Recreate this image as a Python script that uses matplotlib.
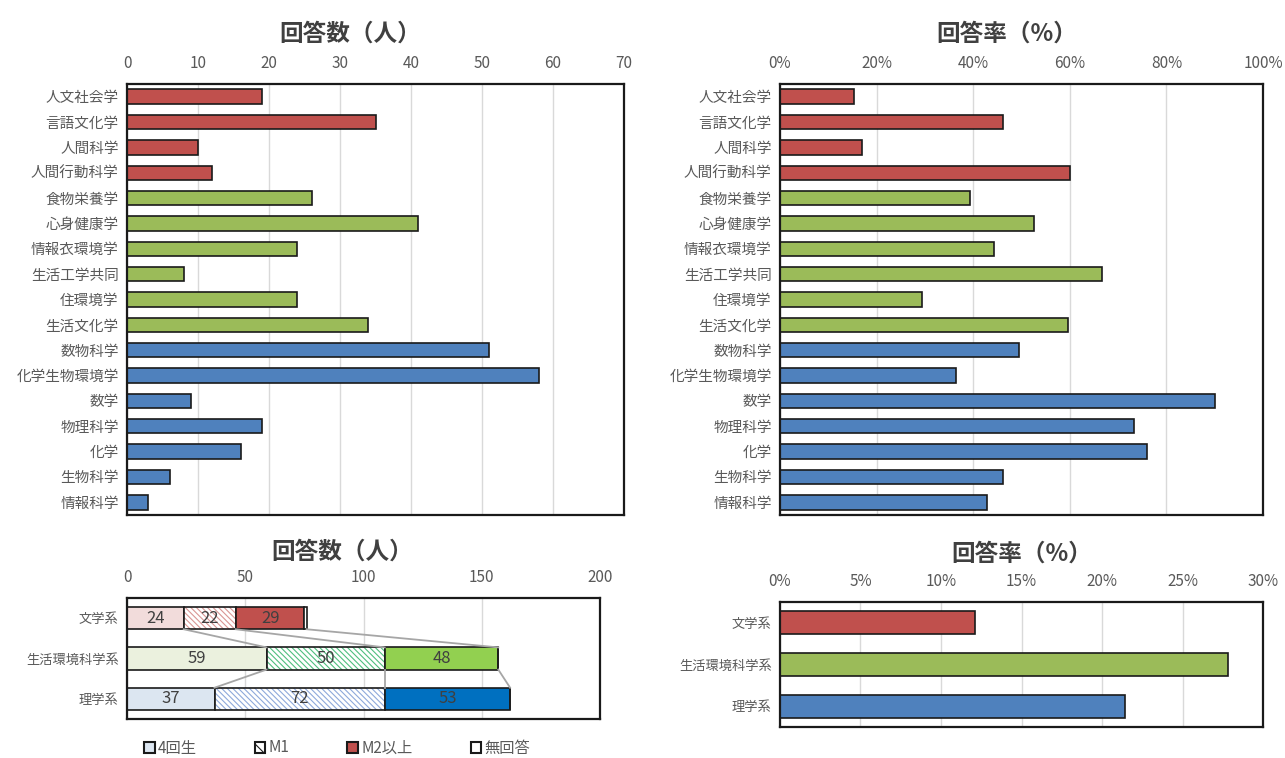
import matplotlib.pyplot as plt
from matplotlib.ticker import PercentFormatter
from matplotlib.patches import Patch

plt.rcParams['font.family'] = ['Noto Sans CJK JP', 'DejaVu Sans']
plt.rcParams['hatch.linewidth'] = 0.8

# --- data ---
depts = ['人文社会学', '言語文化学', '人間科学', '人間行動科学',
         '食物栄養学', '心身健康学', '情報衣環境学', '生活工学共同', '住環境学', '生活文化学',
         '数物科学', '化学生物環境学', '数学', '物理科学', '化学', '生物科学', '情報科学']
dept_group = [0, 0, 0, 0, 1, 1, 1, 1, 1, 1, 2, 2, 2, 2, 2, 2, 2]
dept_count = [19, 35, 10, 12, 26, 41, 24, 8, 24, 34, 51, 58, 9, 19, 16, 6, 3]
dept_rate = [15.3, 46.1, 17.0, 60.0, 39.3, 52.6, 44.3, 66.7, 29.3, 59.6,
             49.4, 36.5, 90.0, 73.2, 76.0, 46.1, 42.8]

groups = ['文学系', '生活環境科学系', '理学系']
grade_labels = ['4回生', 'M1', 'M2以上', '無回答']
g4 = [24, 59, 37]
m1 = [22, 50, 72]
m2 = [29, 48, 53]
noans = [1, 0, 0]
group_rate = [12.1, 27.8, 21.4]

base_colors = ['#C0504D', '#9BBB59', '#4F81BD']
light_colors = ['#F2DCDB', '#EBF1DE', '#DCE6F1']
m1_hatch_colors = ['#D99694', '#4FBF7F', '#8EA9DB']
m2_colors = ['#C0504D', '#92D050', '#0070C0']

TXT = '#595959'
TITLE = '#404040'
GRID = '#D9D9D9'

fig = plt.figure(figsize=(12.85, 7.58), dpi=100)
W, H = 1285, 758


def add_ax(l, t, r, b):
    return fig.add_axes([l / W, 1 - b / H, (r - l) / W, (b - t) / H])


def style(ax, xmax, step, pct=False, ylab=10.5):
    ax.set_xlim(0, xmax)
    ax.set_xticks(range(0, xmax + 1, step))
    if pct:
        ax.xaxis.set_major_formatter(PercentFormatter(decimals=0))
    ax.xaxis.tick_top()
    ax.tick_params(axis='both', length=0, colors=TXT, pad=6)
    ax.tick_params(axis='x', pad=8.5, labelsize=11)
    ax.tick_params(axis='y', labelsize=ylab)
    ax.grid(axis='x', color=GRID, lw=1)
    ax.set_axisbelow(True)
    for s in ax.spines.values():
        s.set_linewidth(1.6)
        s.set_color('#1a1a1a')


# top-left: counts
ax1 = add_ax(127, 84, 624, 515)
ypos = list(range(len(depts)))
ax1.barh(ypos, dept_count, height=0.57, color=[base_colors[g] for g in dept_group],
         edgecolor='#1a1a1a', lw=1.2)
ax1.set_yticks(ypos)
ax1.set_yticklabels(depts)
ax1.set_ylim(len(depts) - 0.5, -0.5)
style(ax1, 70, 10)
ax1.set_title('回答数（人）', fontsize=17, fontweight='bold', color=TITLE, pad=31, x=0.45)

# top-right: rate
ax2 = add_ax(780, 84, 1263, 515)
ax2.barh(ypos, dept_rate, height=0.57, color=[base_colors[g] for g in dept_group],
         edgecolor='#1a1a1a', lw=1.2)
ax2.set_yticks(ypos)
ax2.set_yticklabels(depts)
ax2.set_ylim(len(depts) - 0.5, -0.5)
style(ax2, 100, 20, pct=True)
ax2.set_title('回答率（%）', fontsize=17, fontweight='bold', color=TITLE, pad=31, x=0.47)

# bottom-left: stacked counts
ax3 = add_ax(127, 598, 600, 719)
gy = list(range(len(groups)))
h = 0.55
ax3.barh(gy, g4, height=h, color=light_colors, edgecolor='#1a1a1a', lw=1.2)
left = list(g4)
ax3.barh(gy, m1, height=h, left=left, color='white', edgecolor=m1_hatch_colors,
         hatch='\\\\\\\\\\\\', lw=0)
ax3.barh(gy, m1, height=h, left=left, fill=False, edgecolor='#1a1a1a', lw=1.2)
left2 = [a + b for a, b in zip(left, m1)]
ax3.barh(gy, m2, height=h, left=left2, color=m2_colors, edgecolor='#1a1a1a', lw=1.2)
left3 = [a + b for a, b in zip(left2, m2)]
ax3.barh(gy, noans, height=h, left=left3, color='white', edgecolor='#1a1a1a', lw=1.2)
for i in gy:
    ax3.text(g4[i] / 2, i, str(g4[i]), ha='center', va='center', fontsize=12, color=TITLE)
    ax3.text(left[i] + m1[i] / 2, i, str(m1[i]), ha='center', va='center', fontsize=12, color=TITLE)
    ax3.text(left2[i] + m2[i] / 2, i, str(m2[i]), ha='center', va='center', fontsize=12, color=TITLE)
# series lines between stacked bars
cums = [[g4[i], g4[i] + m1[i], g4[i] + m1[i] + m2[i] + noans[i]] for i in gy]
for i in range(len(groups) - 1):
    for k in range(3):
        ax3.plot([cums[i][k], cums[i + 1][k]], [i + h / 2, i + 1 - h / 2],
                 color='#A6A6A6', lw=1.3, zorder=1)
ax3.set_yticks(gy)
ax3.set_yticklabels(groups)
ax3.set_ylim(len(groups) - 0.5, -0.5)
style(ax3, 200, 50, ylab=9.5)
ax3.set_title('回答数（人）', fontsize=17, fontweight='bold', color=TITLE, pad=28, x=0.455)

handles = [Patch(facecolor=light_colors[2], edgecolor='#1a1a1a', lw=1.5),
           Patch(facecolor='white', edgecolor='#1a1a1a', hatch='\\\\\\', lw=1.5),
           Patch(facecolor=m2_colors[0], edgecolor='#1a1a1a', lw=1.5),
           Patch(facecolor='white', edgecolor='#1a1a1a', lw=1.5)]
fig.legend(handles, grade_labels, loc='center', bbox_to_anchor=(337 / W, 1 - 748 / H),
           ncol=4, frameon=False, fontsize=11, handlelength=0.7, handleheight=0.7,
           handletextpad=0.2, columnspacing=3.8, labelcolor=TXT)

# bottom-right: group rate
ax4 = add_ax(780, 602, 1263, 727)
ax4.barh(gy, group_rate, height=0.55, color=base_colors, edgecolor='#1a1a1a', lw=1.2)
ax4.set_yticks(gy)
ax4.set_yticklabels(groups)
ax4.set_ylim(len(groups) - 0.5, -0.5)
style(ax4, 30, 5, pct=True, ylab=9.5)
ax4.set_title('回答率（%）', fontsize=17, fontweight='bold', color=TITLE, pad=30)

fig.savefig('out.png', dpi=100)
